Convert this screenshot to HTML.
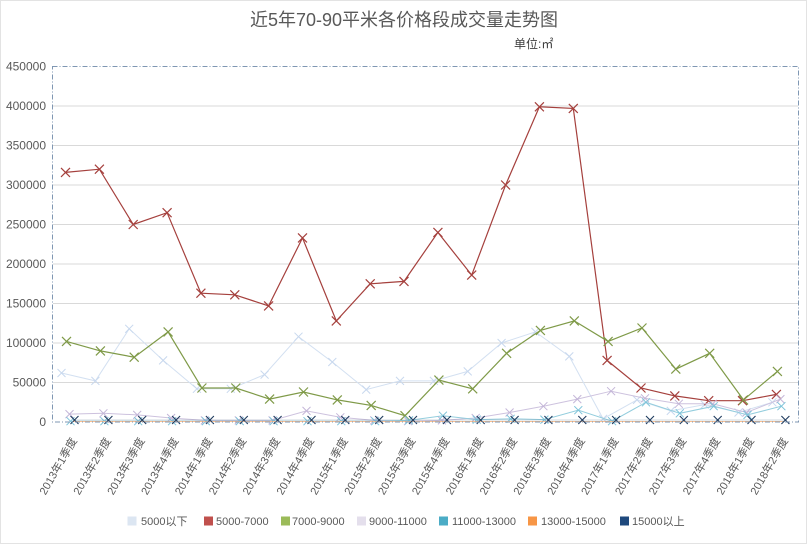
<!DOCTYPE html>
<html><head><meta charset="utf-8"><style>
html,body{margin:0;padding:0;background:#fff;}
svg{display:block;font-family:"Liberation Sans","Noto Sans CJK SC",sans-serif;}
</style></head><body>
<svg width="808" height="545" viewBox="0 0 808 545" xmlns="http://www.w3.org/2000/svg">
<defs>
<marker id="mb" markerWidth="10" markerHeight="10" refX="5" refY="5" markerUnits="userSpaceOnUse" overflow="visible"><path d="M1,1L9,9M1,9L9,1" stroke="#c8d8ee" stroke-width="1" fill="none"/></marker>
<marker id="mr" markerWidth="10" markerHeight="10" refX="5" refY="5" markerUnits="userSpaceOnUse" overflow="visible"><path d="M0.5,0.5L9.5,9.5M0.5,9.5L9.5,0.5" stroke="#a5403d" stroke-width="1.2" fill="none"/></marker>
<marker id="mg" markerWidth="10" markerHeight="10" refX="5" refY="5" markerUnits="userSpaceOnUse" overflow="visible"><path d="M0.5,0.5L9.5,9.5M0.5,9.5L9.5,0.5" stroke="#7f9a48" stroke-width="1.2" fill="none"/></marker>
<marker id="mp" markerWidth="10" markerHeight="10" refX="5" refY="5" markerUnits="userSpaceOnUse" overflow="visible"><path d="M1,1L9,9M1,9L9,1" stroke="#c4b6d8" stroke-width="1" fill="none"/></marker>
<marker id="mc" markerWidth="10" markerHeight="10" refX="5" refY="5" markerUnits="userSpaceOnUse" overflow="visible"><path d="M1,1L9,9M1,9L9,1" stroke="#7cc3d9" stroke-width="1" fill="none"/></marker>
<marker id="mn" markerWidth="10" markerHeight="10" refX="5" refY="5" markerUnits="userSpaceOnUse" overflow="visible"><path d="M1,1L9,9M1,9L9,1" stroke="#1f3b5e" stroke-width="1.1" fill="none"/></marker>
</defs>
<rect x="0.5" y="0.5" width="806" height="543" fill="#fff" stroke="#e3e3e3"/>
<text x="404" y="26" font-size="18" fill="#595959" text-anchor="middle">近5年70-90平米各价格段成交量走势图</text>
<text x="514" y="48" font-size="12" fill="#404040">单位:㎡</text>
<g stroke="#d9d9d9" stroke-width="1">
<line x1="53" y1="382.5" x2="798" y2="382.5"/>
<line x1="53" y1="343" x2="798" y2="343"/>
<line x1="53" y1="303.5" x2="798" y2="303.5"/>
<line x1="53" y1="264" x2="798" y2="264"/>
<line x1="53" y1="224.5" x2="798" y2="224.5"/>
<line x1="53" y1="185" x2="798" y2="185"/>
<line x1="53" y1="145.5" x2="798" y2="145.5"/>
<line x1="53" y1="106" x2="798" y2="106"/>
</g>
<g font-size="12" fill="#595959" text-anchor="end">
<text x="46" y="426">0</text>
<text x="46" y="386.5">50000</text>
<text x="46" y="347">100000</text>
<text x="46" y="307.5">150000</text>
<text x="46" y="268">200000</text>
<text x="46" y="228.5">250000</text>
<text x="46" y="189">300000</text>
<text x="46" y="149.5">350000</text>
<text x="46" y="110">400000</text>
<text x="46" y="70.5">450000</text>
</g>
<!-- 5000以下 -->
<polyline transform="translate(-4,0)" fill="none" stroke="#d3e0f1" stroke-width="1" marker-start="url(#mb)" marker-mid="url(#mb)" marker-end="url(#mb)" points="65.5,373 99.4,380.9 133.2,328.8 167.1,360.4 200.9,388.8 234.8,388.8 268.6,374.6 302.5,336.7 336.3,362 370.2,389.6 404,380.9 437.9,380.9 471.7,371.4 505.6,343 539.4,331.9 573.3,356.4 607.1,418.8 641,399.9 674.8,410.9 708.7,404.6 742.5,412.5 776.4,402.3"/>
<!-- 5000-7000 -->
<polyline fill="none" stroke="#a5403d" stroke-width="1.2" marker-start="url(#mr)" marker-mid="url(#mr)" marker-end="url(#mr)" points="65.5,172.4 99.4,169.2 133.2,224.5 167.1,212.7 200.9,293.2 234.8,294.8 268.6,305.9 302.5,237.9 336.3,320.9 370.2,283.8 404,281.4 437.9,232.4 471.7,275.1 505.6,185 539.4,106.8 573.3,108.4 607.1,360.4 641,388 674.8,395.9 708.7,400.7 742.5,400.7 776.4,394.4"/>
<!-- 7000-9000 -->
<polyline transform="translate(1,0)" fill="none" stroke="#7f9a48" stroke-width="1.2" marker-start="url(#mg)" marker-mid="url(#mg)" marker-end="url(#mg)" points="65.5,341.4 99.4,350.9 133.2,357.2 167.1,331.9 200.9,388 234.8,388 268.6,399.1 302.5,392 336.3,399.9 370.2,405.4 404,415.7 437.9,380.1 471.7,388.8 505.6,353.3 539.4,330.4 573.3,320.9 607.1,341.4 641,328 674.8,369.1 708.7,353.3 742.5,399.9 776.4,371.4"/>
<!-- 9000-11000 -->
<polyline transform="translate(4,0)" fill="none" stroke="#cdc2de" stroke-width="1" marker-start="url(#mp)" marker-mid="url(#mp)" marker-end="url(#mp)" points="65.5,414.1 99.4,413.3 133.2,414.9 167.1,418 200.9,420.4 234.8,420.4 268.6,420.4 302.5,410.9 336.3,417.3 370.2,420.4 404,421.2 437.9,420.4 471.7,418 505.6,412.5 539.4,406.2 573.3,399.1 607.1,391.2 641,398.3 674.8,403.8 708.7,403.8 742.5,412.5 776.4,399.1"/>
<!-- 11000-13000 -->
<polyline transform="translate(5,0)" fill="none" stroke="#93cddd" stroke-width="1" marker-start="url(#mc)" marker-mid="url(#mc)" marker-end="url(#mc)" points="65.5,421.2 99.4,421.2 133.2,421.2 167.1,421.2 200.9,421.2 234.8,421.2 268.6,421.2 302.5,421.2 336.3,421.2 370.2,421.2 404,420.4 437.9,415.7 471.7,419.6 505.6,418.8 539.4,419.6 573.3,410.2 607.1,421.2 641,402.3 674.8,413.3 708.7,406.2 742.5,414.9 776.4,406.2"/>
<!-- 13000-15000 -->
<polyline transform="translate(7,0)" fill="none" stroke="#fac090" stroke-width="1" points="65.5,421.5 776.4,421.5"/>
<!-- 15000以上 -->
<polyline transform="translate(9,0)" fill="none" stroke="#1f3b5e" stroke-width="0.6" stroke-opacity="0.4" marker-start="url(#mn)" marker-mid="url(#mn)" marker-end="url(#mn)" points="65.5,420 99.4,420 133.2,420 167.1,420 200.9,420 234.8,420 268.6,420 302.5,420 336.3,420 370.2,420 404,420 437.9,420 471.7,420 505.6,420 539.4,420 573.3,420 607.1,420 641,420 674.8,420 708.7,420 742.5,420 776.4,420"/>
<rect x="52.5" y="66.5" width="746" height="355.5" fill="none" stroke="#7f97b3" stroke-width="1" stroke-dasharray="5,2,1,2"/>
<g font-size="11" fill="#595959" text-anchor="end">
<text transform="translate(69.5,436) rotate(-60)" x="0" y="9">2013年1季度</text>
<text transform="translate(103.4,436) rotate(-60)" x="0" y="9">2013年2季度</text>
<text transform="translate(137.2,436) rotate(-60)" x="0" y="9">2013年3季度</text>
<text transform="translate(171.1,436) rotate(-60)" x="0" y="9">2013年4季度</text>
<text transform="translate(204.9,436) rotate(-60)" x="0" y="9">2014年1季度</text>
<text transform="translate(238.8,436) rotate(-60)" x="0" y="9">2014年2季度</text>
<text transform="translate(272.6,436) rotate(-60)" x="0" y="9">2014年3季度</text>
<text transform="translate(306.5,436) rotate(-60)" x="0" y="9">2014年4季度</text>
<text transform="translate(340.3,436) rotate(-60)" x="0" y="9">2015年1季度</text>
<text transform="translate(374.2,436) rotate(-60)" x="0" y="9">2015年2季度</text>
<text transform="translate(408,436) rotate(-60)" x="0" y="9">2015年3季度</text>
<text transform="translate(441.9,436) rotate(-60)" x="0" y="9">2015年4季度</text>
<text transform="translate(475.7,436) rotate(-60)" x="0" y="9">2016年1季度</text>
<text transform="translate(509.6,436) rotate(-60)" x="0" y="9">2016年2季度</text>
<text transform="translate(543.4,436) rotate(-60)" x="0" y="9">2016年3季度</text>
<text transform="translate(577.3,436) rotate(-60)" x="0" y="9">2016年4季度</text>
<text transform="translate(611.1,436) rotate(-60)" x="0" y="9">2017年1季度</text>
<text transform="translate(645,436) rotate(-60)" x="0" y="9">2017年2季度</text>
<text transform="translate(678.8,436) rotate(-60)" x="0" y="9">2017年3季度</text>
<text transform="translate(712.7,436) rotate(-60)" x="0" y="9">2017年4季度</text>
<text transform="translate(746.5,436) rotate(-60)" x="0" y="9">2018年1季度</text>
<text transform="translate(780.4,436) rotate(-60)" x="0" y="9">2018年2季度</text>
</g>
<g font-size="11" fill="#595959">
<rect x="127.5" y="516.5" width="9" height="9" fill="#dce6f2"/>
<text x="141" y="525">5000以下</text>
<rect x="204" y="516.5" width="9" height="9" fill="#c0504d"/>
<text x="216" y="525">5000-7000</text>
<rect x="281" y="516.5" width="9" height="9" fill="#9bbb59"/>
<text x="292" y="525">7000-9000</text>
<rect x="357" y="516.5" width="9" height="9" fill="#e4dfec"/>
<text x="369" y="525">9000-11000</text>
<rect x="439" y="516.5" width="9" height="9" fill="#4bacc6"/>
<text x="452" y="525">11000-13000</text>
<rect x="528" y="516.5" width="9" height="9" fill="#f79646"/>
<text x="541" y="525">13000-15000</text>
<rect x="620" y="516.5" width="9" height="9" fill="#1f497d"/>
<text x="632" y="525">15000以上</text>
</g>
</svg>
</body></html>
